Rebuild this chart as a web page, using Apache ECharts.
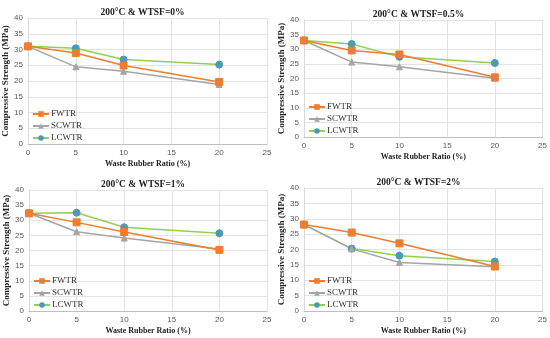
<!DOCTYPE html>
<html><head><meta charset="utf-8">
<script src="https://cdn.jsdelivr.net/npm/echarts@6/dist/echarts.min.js"></script>
<style>html,body{margin:0;padding:0;background:#fff}#c{width:550px;height:338px}</style>
</head><body><div id="c"></div>
<script>
const xValues = [0, 5, 10, 20];
const panelTitles = ['200°C & WTSF=0%', '200°C & WTSF=0.5%', '200°C & WTSF=1%', '200°C & WTSF=2%'];
const seriesNames = ['FWTR', 'SCWTR', 'LCWTR'];
const fwtr = [[31.0, 28.9, 24.9, 19.7], [33.0, 29.6, 28.2, 20.4], [32.3, 29.3, 26.1, 20.2], [28.1, 25.5, 22.0, 14.5]];
const scwtr = [[31.0, 24.5, 23.1, 18.9], [33.0, 25.6, 24.0, 20.1], [32.3, 26.2, 24.1, 20.5], [28.1, 20.2, 15.8, 14.4]];
const lcwtr = [[31.0, 30.4, 26.8, 25.2], [33.0, 31.8, 27.4, 25.3], [32.3, 32.5, 27.7, 25.7], [28.1, 20.3, 18.0, 16.1]];
const xTicks = [0, 5, 10, 15, 20, 25];
const yTicks = [0, 5, 10, 15, 20, 25, 30, 35, 40];

const grids = [
  {left: 28, top: 18, width: 239, height: 126},
  {left: 304, top: 20, width: 239, height: 117},
  {left: 29, top: 190, width: 238, height: 121},
  {left: 304, top: 188, width: 239, height: 123}
];
const serif = '"Liberation Serif", "Times New Roman", serif';
const colors = ['#ED7D31', '#A5A5A5', '#92D050'];
const markerColors = ['#ED7D31', '#A5A5A5', '#4A9BB5'];
const symbols = ['rect', 'triangle', 'circle'];
const symSizes = [7, 6, 7];
const allData = [fwtr, scwtr, lcwtr];

const option = {
  animation: false,
  backgroundColor: '#fff',
  title: grids.map((g, i) => ({
    text: panelTitles[i],
    left: g.left + g.width / 2 - 10, top: g.top - 15, textAlign: 'center',
    textStyle: {fontFamily: serif, fontWeight: 'bold', fontSize: 9.5, color: '#222'}
  })),
  legend: grids.map((g, i) => ({
    data: seriesNames.map(n => ({name: n + '_' + i})),
    orient: 'vertical', left: g.left + 4, top: g.top + g.height - 35, padding: 0,
    itemWidth: 16, itemHeight: 7, itemGap: 2,
    formatter: n => n.split('_')[0],
    textStyle: {fontFamily: serif, fontSize: 9, lineHeight: 10, color: '#333', padding: [0, 0, 0, -3]}
  })),
  grid: grids.map(g => Object.assign({containLabel: false}, g)),
  xAxis: grids.map((g, i) => ({
    gridIndex: i, type: 'value', min: 0, max: 25, interval: 5,
    name: 'Waste Rubber Ratio (%)', nameLocation: 'middle', nameGap: 16,
    nameTextStyle: {fontFamily: serif, fontWeight: 'bold', fontSize: 8, color: '#222'},
    axisLine: {show: true, lineStyle: {color: '#BFBFBF'}},
    axisTick: {show: false},
    axisLabel: {fontSize: 8, color: '#595959', margin: 5, fontFamily: 'Liberation Sans, sans-serif'},
    splitLine: {show: true, lineStyle: {color: '#E3E3E3'}}
  })),
  yAxis: grids.map((g, i) => ({
    gridIndex: i, type: 'value', min: 0, max: 40, interval: 5,
    name: 'Compressive Strength (MPa)', nameLocation: 'middle', nameGap: 17,
    nameTextStyle: {fontFamily: serif, fontWeight: 'bold', fontSize: 9, color: '#222'},
    axisLine: {show: true, lineStyle: {color: '#D9D9D9'}},
    axisTick: {show: false},
    axisLabel: {fontSize: 8, color: '#595959', margin: 5, fontFamily: 'Liberation Sans, sans-serif'},
    splitLine: {show: true, lineStyle: {color: '#E3E3E3'}}
  })),
  series: []
};
grids.forEach((g, i) => {
  [2, 0, 1].forEach(k => {
    option.series.push({
      name: seriesNames[k] + '_' + i,
      type: 'line', xAxisIndex: i, yAxisIndex: i,
      data: xValues.map((x, j) => [x, allData[k][i][j]]),
      symbol: symbols[k], symbolSize: symSizes[k],
      lineStyle: {color: colors[k], width: 1.5},
      itemStyle: {color: markerColors[k], borderColor: markerColors[k]},
      z: k === 0 ? 4 : 3
    });
  });
});
echarts.init(document.getElementById('c'), null, {renderer: 'canvas'}).setOption(option);
</script>
</body></html>
